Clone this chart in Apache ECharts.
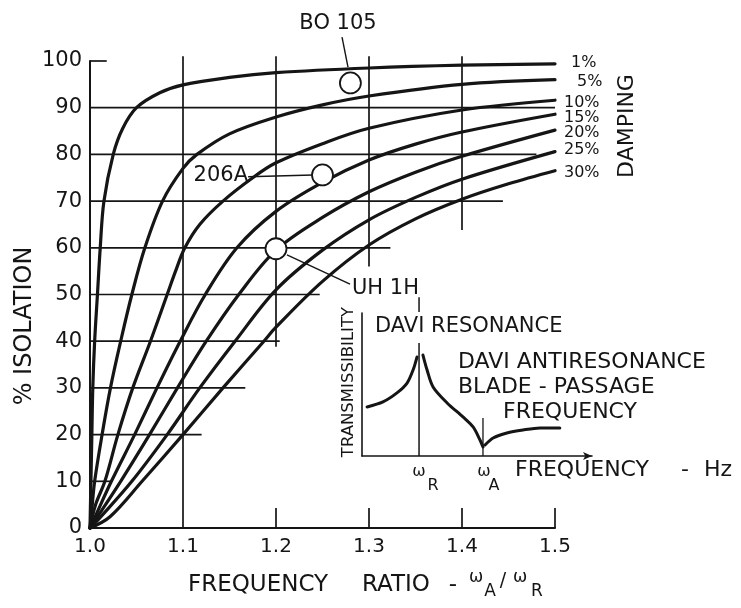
<!DOCTYPE html>
<html>
<head>
<meta charset="utf-8">
<script src="https://cdn.jsdelivr.net/npm/echarts@6/dist/echarts.min.js"></script>
<style>
  html, body { margin: 0; padding: 0; background: #fff; }
  #chart { width: 741px; height: 608px; }
</style>
</head>
<body>
<div id="chart"></div>
<script>
// ---- data -------------------------------------------------------------
// frequency ratio (wA/wR) vs % isolation, one curve per damping level
const dampingNames = ['1%', '5%', '10%', '15%', '20%', '25%', '30%'];

const damping1 = [[1.0,0],[1.001,10],[1.002,20],[1.003,30],[1.005,40],[1.008,50],[1.011,60],[1.015,70],[1.025,80],[1.035,85.5],[1.05,90],[1.075,93.2],[1.1,94.9],[1.15,96.5],[1.2,97.5],[1.3,98.5],[1.4,99.1],[1.5,99.4]];
const damping5 = [[1.0,0],[1.002,4],[1.005,10],[1.013,20],[1.022,30],[1.033,40],[1.045,50],[1.059,60],[1.078,70],[1.1,77],[1.115,80],[1.15,84.4],[1.2,88],[1.25,90.6],[1.3,92.5],[1.4,95.0],[1.5,96.0]];
const damping10 = [[1.0,0],[1.006,5],[1.016,10],[1.03,20],[1.046,30],[1.065,40],[1.083,50],[1.092,55],[1.102,60],[1.118,65],[1.143,70],[1.175,75],[1.2,78.2],[1.25,82.3],[1.3,85.6],[1.4,89.5],[1.5,91.6]];
const damping15 = [[1.0,0],[1.008,3.5],[1.023,10],[1.048,20],[1.072,30],[1.097,40],[1.124,50],[1.158,60],[1.2,67.8],[1.25,74],[1.3,78.8],[1.35,82.2],[1.4,84.8],[1.5,88.6]];
const damping20 = [[1.0,0],[1.01,3],[1.033,10],[1.064,20],[1.094,30],[1.125,40],[1.16,50],[1.2,59.5],[1.25,66.5],[1.3,72],[1.35,76.2],[1.4,79.6],[1.5,85.2]];
const damping25 = [[1.0,0],[1.012,2.5],[1.045,10],[1.083,20],[1.118,30],[1.156,40],[1.2,51],[1.25,59.5],[1.3,66],[1.35,70.8],[1.4,74.7],[1.5,80.6]];
const damping30 = [[1.0,0],[1.0215,2.4],[1.056,10],[1.1,20],[1.143,30],[1.187,40],[1.2,43],[1.25,52.8],[1.3,60.6],[1.35,66.2],[1.4,70.4],[1.45,73.7],[1.5,76.5]];
const dampingCurves = [damping1, damping5, damping10, damping15, damping20, damping25, damping30];

// helicopter installations: [ratio, % isolation]
const aircraftNames = ['BO 105', '206A', 'UH 1H'];
const aircraftPoints = [[1.28, 95.3], [1.25, 75.6], [1.2, 59.8]];
// leader lines from each name to its point
const aircraftLeaders = [
  [[1.271, 105.1], [1.2774, 98.7]],
  [[1.170, 75.2], [1.2398, 75.6]],
  [[1.2118, 58.5], [1.2796, 52.2]]
];

// axis ticks
const ratioTicks = ['1.0', '1.1', '1.2', '1.3', '1.4', '1.5'];
const isolationTicks = ['0', '10', '20', '30', '40', '50', '60', '70', '80', '90', '100'];

// ruled lines of the chart: [isolation %, ratio where the rule stops]
const rowRules = [[10,1.022],[20,1.12],[30,1.167],[40,1.204],[50,1.247],[60,1.323],[70,1.444],[80,1.48],[90,1.5],[100,1.018]];
// [ratio, from %, to %]
const columnRules = [[1.1,0,101],[1.2,38.8,101],[1.2,0,4.3],[1.3,56,101],[1.3,0,4.3],[1.4,63.8,101],[1.4,0,4.3],[1.5,0,4.3]];

// inset sketch: transmissibility vs frequency (arbitrary units 0..10)
const insetBelowResonance = [[0.22,3.43],[0.91,3.78],[1.52,4.41],[1.96,5.10],[2.22,6.01],[2.39,6.92]];
const insetAboveResonance = [[2.65,7.06],[2.83,6.01],[3.09,4.83],[3.70,3.71],[4.39,2.73],[4.83,2.03],[5.13,1.12],[5.26,0.63]];
const insetAboveAntiresonance = [[5.35,0.77],[5.70,1.26],[6.30,1.61],[7.0,1.82],[7.74,1.96],[8.6,1.96]];
const resonanceMark = [[2.48,0],[2.48,7.9]];
const resonanceTick = [[2.48,10.07],[2.48,11.1]];
const antiresonanceMark = [[5.26,0],[5.26,2.66]];

// ---- drawing ----------------------------------------------------------
const ink = '#151515';
const FONT = 'DejaVu Sans';
const chart = echarts.init(document.getElementById('chart'), null, { renderer: 'canvas' });

const series = [];
function rule(points, width, axisIdx) {
  series.push({
    type: 'line', xAxisIndex: axisIdx, yAxisIndex: axisIdx, data: points,
    symbol: 'none', clip: false, silent: true, animation: false, z: 2,
    lineStyle: { color: ink, width: width }
  });
}

rowRules.forEach(([v, rEnd]) => rule([[1.0, v], [rEnd, v]], 1.7, 0));
columnRules.forEach(([r, v0, v1]) => rule([[r, v0], [r, v1]], 1.7, 0));

const endLabelOffsets = [[7,-1],[13,2],[0,3],[0,4],[0,3],[0,-2],[0,2]];
dampingCurves.forEach((pts, i) => {
  series.push({
    type: 'line', name: dampingNames[i], data: pts,
    xAxisIndex: 0, yAxisIndex: 0,
    smooth: 0.35, symbol: 'none', clip: false,
    animation: false, silent: true, z: 3,
    lineStyle: { color: ink, width: 3.2, cap: 'round', join: 'round' },
    endLabel: {
      show: true, formatter: dampingNames[i], color: ink,
      fontFamily: FONT, fontSize: 16, distance: 9, offset: endLabelOffsets[i]
    }
  });
});

aircraftLeaders.forEach(pts => rule(pts, 1.4, 0));
series.push({
  type: 'scatter', xAxisIndex: 0, yAxisIndex: 0,
  data: aircraftPoints, symbol: 'circle', symbolSize: 21, z: 5,
  animation: false, silent: true,
  itemStyle: { color: '#fff', borderColor: ink, borderWidth: 1.8, opacity: 1 }
});

// inset
[insetBelowResonance, insetAboveResonance, insetAboveAntiresonance].forEach(pts => {
  series.push({
    type: 'line', xAxisIndex: 1, yAxisIndex: 1, data: pts,
    smooth: 0.3, symbol: 'none', clip: false, animation: false, silent: true, z: 3,
    lineStyle: { color: ink, width: 3, cap: 'round' }
  });
});
rule(resonanceMark, 1.5, 1);
rule(resonanceTick, 1.5, 1);
rule(antiresonanceMark, 1.3, 1);

const textStyle = (size) => ({ fontFamily: FONT, fontSize: size, fill: ink });
function label(text, x, y, size, align, rotation) {
  return {
    type: 'text', x: x, y: y, rotation: rotation || 0, silent: true, z: 10,
    style: Object.assign(textStyle(size), { text: text, align: align || 'left', verticalAlign: 'middle' })
  };
}

const graphics = [
  // axis titles
  label('% ISOLATION', 25, 326, 24, 'center', Math.PI / 2),
  label('FREQUENCY', 188, 585, 23, 'left'),
  label('RATIO', 362, 585, 23, 'left'),
  label('-', 453, 585, 23, 'center'),
  label('ω', 476, 578, 17, 'center'),
  label('A', 490, 592, 17, 'center'),
  label('/', 503, 581, 19, 'center'),
  label('ω', 520, 578, 17, 'center'),
  label('R', 537, 592, 17, 'center'),
  // damping legend title
  label('DAMPING', 627, 126, 22, 'center', Math.PI / 2),
  // aircraft names
  label(aircraftNames[0], 338, 24, 21, 'center'),
  label(aircraftNames[1], 248, 176, 21, 'right'),
  label(aircraftNames[2], 352, 289, 21, 'left'),
  // inset text
  label('TRANSMISSIBILITY', 349, 382, 16.5, 'center', Math.PI / 2),
  label('DAVI RESONANCE', 375, 327, 21, 'left'),
  label('DAVI ANTIRESONANCE', 458, 362, 22, 'left'),
  label('BLADE - PASSAGE', 458, 387, 22, 'left'),
  label('FREQUENCY', 503, 412, 22, 'left'),
  label('ω', 419, 472, 16, 'center'),
  label('R', 433, 486, 16, 'center'),
  label('ω', 484, 472, 16, 'center'),
  label('A', 494, 486, 16, 'center'),
  label('FREQUENCY', 515, 470, 22, 'left'),
  label('-', 685, 470, 22, 'center'),
  label('Hz', 704, 470, 22, 'left')
];

chart.setOption({
  backgroundColor: '#fff',
  animation: false,
  grid: [
    { left: 90, right: 186, top: 61, bottom: 80 },
    { left: 362, top: 313, width: 230, height: 143 }
  ],
  xAxis: [
    {
      gridIndex: 0, type: 'value', min: 1.0, max: 1.5, interval: 0.1,
      axisLine: { show: true, lineStyle: { color: ink, width: 2 } },
      axisTick: { show: false }, splitLine: { show: false },
      axisLabel: {
        color: ink, fontFamily: FONT, fontSize: 20, margin: 9,
        formatter: (v) => ratioTicks[Math.round((v - 1) * 10)]
      }
    },
    {
      gridIndex: 1, type: 'value', min: 0, max: 10,
      axisLine: { show: true, symbol: ['none', 'arrow'], symbolSize: [6, 9], lineStyle: { color: ink, width: 1.6 } },
      axisTick: { show: false }, axisLabel: { show: false }, splitLine: { show: false }
    }
  ],
  yAxis: [
    {
      gridIndex: 0, type: 'value', min: 0, max: 100, interval: 10,
      axisLine: { show: true, lineStyle: { color: ink, width: 2 } },
      axisTick: { show: false }, splitLine: { show: false },
      axisLabel: {
        color: ink, fontFamily: FONT, fontSize: 21, margin: 8,
        formatter: (v) => isolationTicks[Math.round(v / 10)]
      }
    },
    {
      gridIndex: 1, type: 'value', min: 0, max: 10,
      axisLine: { show: true, lineStyle: { color: ink, width: 1.6 } },
      axisTick: { show: false }, axisLabel: { show: false }, splitLine: { show: false }
    }
  ],
  series: series,
  graphic: graphics
});
</script>
</body>
</html>
